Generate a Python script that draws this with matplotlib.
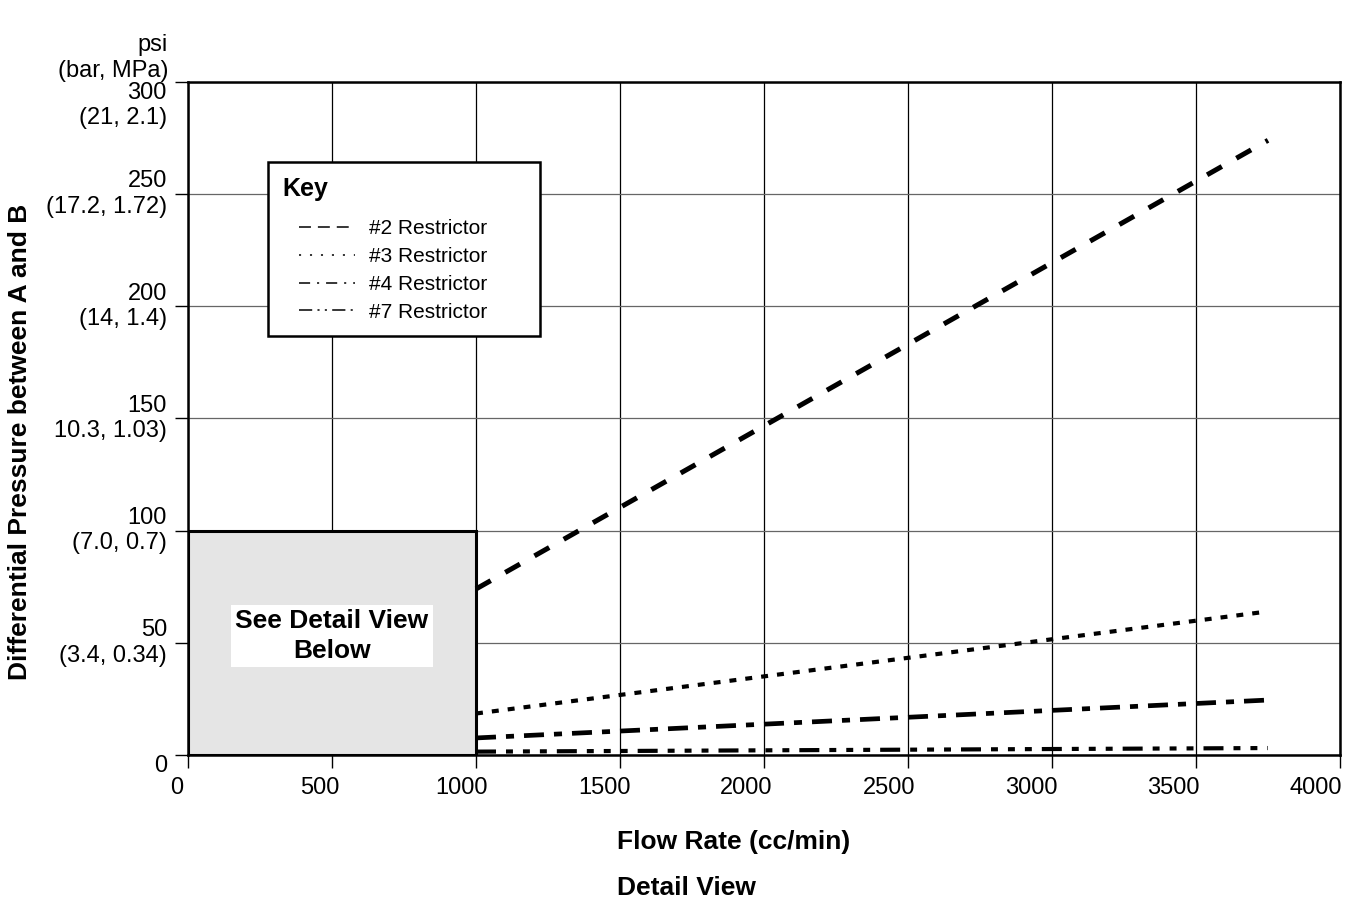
import numpy as np
import matplotlib.pyplot as plt
from matplotlib.lines import Line2D
from matplotlib.patches import Rectangle
from matplotlib.legend_handler import HandlerLine2D
from matplotlib.transforms import ScaledTranslation

plt.rcParams['font.family'] = ['Liberation Sans', 'DejaVu Sans']
plt.rcParams['lines.scale_dashes'] = False

# data (flow in cc/min, pressure in psi)
flow = [1000, 3750]
r2 = [74, 274]
r3 = [18.5, 64]
r4 = [7.6, 24.5]
r7 = [1.5, 3.1]
names = ['#2 Restrictor', '#3 Restrictor', '#4 Restrictor', '#7 Restrictor']

xticks = [0, 500, 1000, 1500, 2000, 2500, 3000, 3500, 4000]
yticks = [0, 50, 100, 150, 200, 250, 300]
ylabels = ['0', '50\n(3.4, 0.34)', '100\n(7.0, 0.7)', '150\n10.3, 1.03)',
           '200\n(14, 1.4)', '250\n(17.2, 1.72)', '300\n(21, 2.1)']

# line styles (points)
styles = [(0, (12.2, 12)), (0, (5, 6.5)), (0, (14.4, 7.2, 5.8, 7.2)),
          (0, (14.4, 7.2, 5, 7.2, 5, 7.2, 5, 7.2))]
widths = [3.6, 3.0, 3.4, 3.0]
leg_styles = [(0, (8.6, 5)), (0, (1.5, 6.4)), (0, (8, 5, 1.5, 5)),
              (0, (9.5, 3.8, 1.5, 3.8, 1.5, 3.8))]

fig = plt.figure(figsize=(13.56, 9.05), dpi=100)
ax = fig.add_axes([188/1356, 1-755/905, 1152/1356, 673/905])

for ys, ls, lw in zip([r2, r3, r4, r7], styles, widths):
    ax.plot(flow, ys, color='k', lw=lw, linestyle=ls, zorder=3)

ax.set_xlim(0, 4000)
ax.set_ylim(0, 300)
ax.set_axisbelow(True)
ax.grid(axis='x', color='k', lw=0.9)
ax.grid(axis='y', color='0.4', lw=0.9)
for s in ax.spines.values():
    s.set_linewidth(1.8)

# grey detail box
ax.add_patch(Rectangle((0, 0), 1000, 100, facecolor='#e5e5e5', edgecolor='k',
                       lw=2.2, zorder=2))
ax.text(500, 53, 'See Detail View\nBelow', ha='center', va='center',
        fontsize=19, fontweight='bold', linespacing=1.3, zorder=4,
        bbox=dict(facecolor='white', edgecolor='none', boxstyle='square,pad=0.15'))

# legend
handles = [Line2D([], [], color='k', lw=1.1, linestyle=ls) for ls in leg_styles]
leg = ax.legend(handles, names, title='Key', loc='upper left',
                bbox_to_anchor=(0.0694, 0.624, 0.2361, 0.257), mode='expand',
                fontsize=15, title_fontproperties={'weight': 'bold', 'size': 18},
                alignment='left', fancybox=False, edgecolor='k', framealpha=1,
                handlelength=3.5, handletextpad=0.65, labelspacing=0.42,
                borderpad=0.7, borderaxespad=0,
                handler_map={Line2D: HandlerLine2D(xpad=0.8)})
leg.get_frame().set_linewidth(1.8)
leg._legend_box.sep = 13.5  # extra room under "Key"

# ticks
ax.set_xticks(xticks)
ax.set_xticklabels([str(v) for v in xticks])
ax.set_yticks(yticks)
ax.set_yticklabels(ylabels, linespacing=1.2)
ax.tick_params(axis='both', direction='out', length=9.4, width=1, labelsize=17)
ax.tick_params(axis='x', pad=6.5)
ax.tick_params(axis='y', pad=5.8)
ylabs = ax.get_yticklabels()
for lab in ylabs:
    lab.set_va('center')
ylabs[0].set_va('top')
ylabs[-1].set_va('top')
for lab, v in zip(ax.get_xticklabels(), xticks):
    shift = -(11 + 0.0032 * v) / 100
    lab.set_transform(lab.get_transform() + ScaledTranslation(shift, 0, fig.dpi_scale_trans))

# labels
fig.text(168/1356, 1-58/905, 'psi\n(bar, MPa)', ha='right', va='center',
         fontsize=17, linespacing=1.2)
fig.text(20/1356, 1-442/905, 'Differential Pressure between A and B', rotation=90,
         ha='center', va='center', fontsize=19, fontweight='bold')
fig.text(617/1356, 1-842/905, 'Flow Rate (cc/min)', ha='left', va='center',
         fontsize=19, fontweight='bold')
fig.text(617/1356, 1-888/905, 'Detail View', ha='left', va='center',
         fontsize=19, fontweight='bold')

fig.savefig('out.png', dpi=100)
